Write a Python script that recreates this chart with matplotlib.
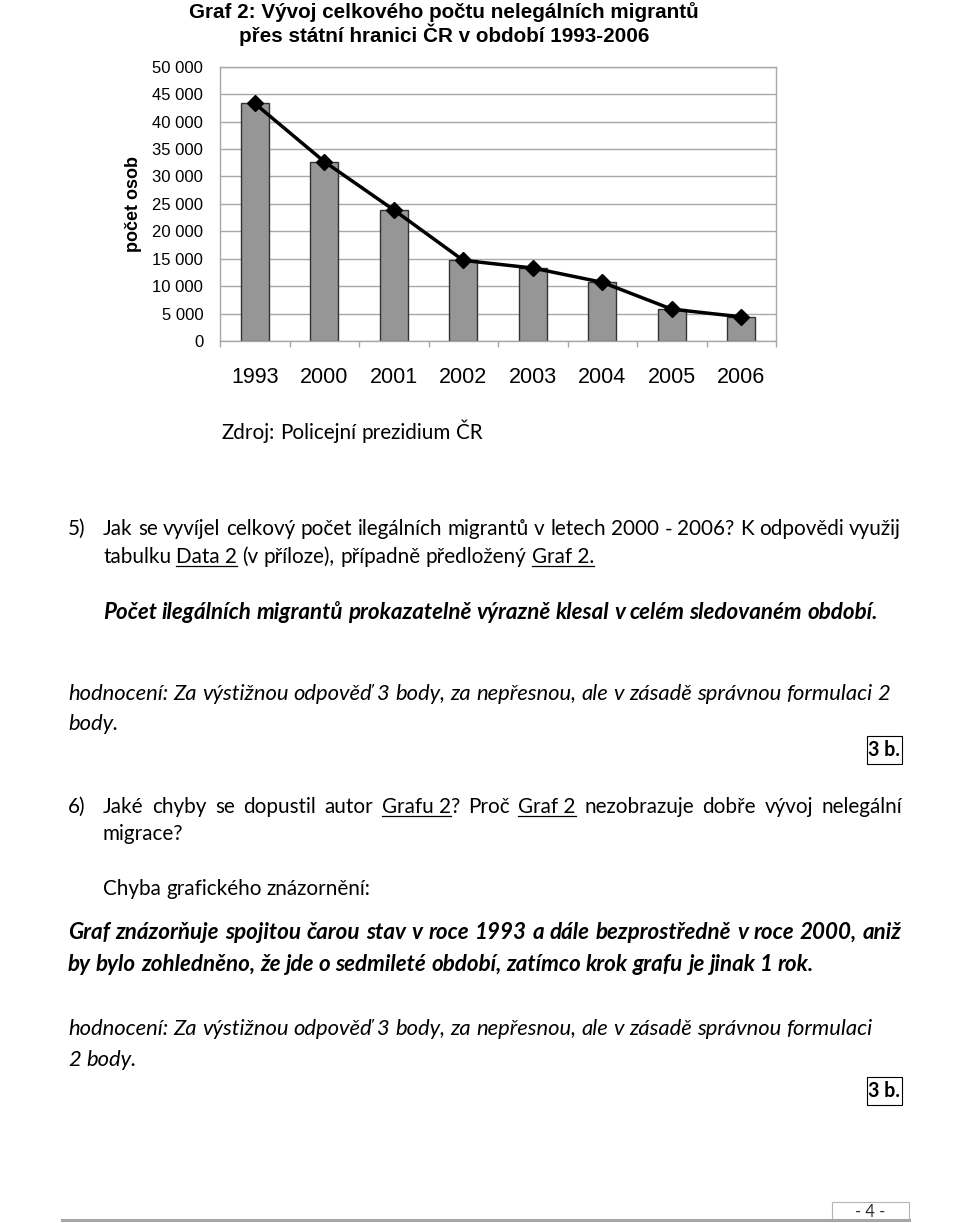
import numpy as np
import matplotlib
matplotlib.use('Agg')
import matplotlib.pyplot as plt
from matplotlib import font_manager
from matplotlib.transforms import IdentityTransform
from matplotlib.lines import Line2D
from matplotlib.patches import Rectangle
from matplotlib.ticker import FuncFormatter

# data
years = ['1993', '2000', '2001', '2002', '2003', '2004', '2005', '2006']
migrants = [43300, 32700, 23900, 14700, 13300, 10700, 5800, 4400]
y_ticks = [0, 5000, 10000, 15000, 20000, 25000, 30000, 35000, 40000, 45000, 50000]

W, H = 960, 1223
fig = plt.figure(figsize=(W / 100, H / 100), dpi=100)
renderer = fig.canvas.get_renderer()
PX = IdentityTransform()

names = {f.name for f in font_manager.fontManager.ttflist}
narrow = 'Liberation Sans Narrow' if 'Liberation Sans Narrow' in names else 'Liberation Sans'
arial = 'Liberation Sans'
body = 'Lato' if 'Lato' in names else 'DejaVu Sans'


def text_width(s, **kw):
    t = fig.text(0, 0, s, transform=PX, **kw)
    w = t.get_window_extent(renderer).width
    t.remove()
    return w


def fit(s, target, **kw):
    return 20 * target / text_width(s, fontsize=20, **kw)


# ---- chart ----
ax = fig.add_axes([220 / W, 1 - 341 / H, 556 / W, 274.3 / H])
x = np.arange(len(years))
ax.bar(x, migrants, width=0.4, color='#969696', edgecolor='#333333', lw=1, zorder=2)
ax.plot(x, migrants, color='black', lw=2.5, marker='D', ms=8, zorder=3)
ax.set_xlim(-0.5, len(years) - 0.5)
ax.set_ylim(0, 50000)
ax.set_yticks(y_ticks)
ax.yaxis.set_major_formatter(FuncFormatter(lambda v, p: f'{int(v):,}'.replace(',', ' ')))
ax.yaxis.grid(True, color='#a8a8a8', lw=1, zorder=0)
ax.set_axisbelow(True)
ax.tick_params(axis='y', length=0, pad=12, labelsize=12)
for lab in ax.get_yticklabels():
    lab.set_family(arial)
ax.set_xticks(x)
ax.set_xticklabels(years, family=arial, fontsize=15.5)
ax.set_xticks(np.arange(-0.5, len(years), 1), minor=True)
ax.tick_params(axis='x', which='major', length=0, pad=19)
ax.tick_params(axis='x', which='minor', length=4, color='#a8a8a8', width=1)
for sp in ax.spines.values():
    sp.set_color('#a8a8a8')
    sp.set_linewidth(1)

title1 = 'Graf 2: Vývoj celkového počtu nelegálních migrantů'
title2 = 'přes státní hranici ČR v období 1993-2006'
ts = fit(title1, 509, family=narrow, weight='bold')
fig.text(444, H - 12, title1, transform=PX, family=narrow, weight='bold', fontsize=ts,
         ha='center', va='center')
fig.text(444, H - 35, title2, transform=PX, family=narrow, weight='bold', fontsize=ts,
         ha='center', va='center')
fig.text(134, H - 204, 'počet osob', transform=PX, family=arial, weight='bold', fontsize=13,
         rotation=90, ha='center', va='center')

# ---- text of the page ----
REG = dict(family=body)
ITA = dict(family=body, style='italic')
BI = dict(family=body, style='italic', weight='bold')
BOLD = dict(family=body, weight='bold')

s_reg = fit('Zdroj: Policejní prezidium ČR', 262, **REG)
s_ita = fit('hodnocení: Za výstižnou odpověď 3 body, za nepřesnou, ale v zásadě správnou formulaci', 807, **ITA)
s_bi = fit('by bylo zohledněno, že jde o sedmileté období, zatímco krok grafu je jinak 1 rok.', 747, **BI)
s_box = fit('3 b.', 32, **BOLD)


def tokenize(segs):
    toks = []
    pending = False
    for txt, ul in segs:
        if ul:
            toks.append((txt, ul, pending))
            pending = False
            continue
        for i, p in enumerate(txt.split(' ')):
            if i > 0:
                pending = True
            if p:
                toks.append((p, ul, pending))
                pending = False
    return toks


def put_line(x0, yc, segs, props, size, x1=None):
    if isinstance(segs, str):
        segs = [(segs, False)]
    toks = tokenize(segs)
    widths = [text_width(t[0], fontsize=size, **props) for t in toks]
    sw = text_width('n n', fontsize=size, **props) - text_width('nn', fontsize=size, **props)
    nsp = sum(1 for t in toks if t[2])
    gap = sw if (x1 is None or nsp == 0) else (x1 - x0 - sum(widths)) / nsp
    em = size * 100 / 72
    base = yc + 0.3 * em
    xx = x0
    for (txt, ul, sp), w in zip(toks, widths):
        if sp:
            xx += gap
        fig.text(xx, H - base, txt, transform=PX, fontsize=size, ha='left', va='baseline', **props)
        if ul:
            yu = H - base - 0.12 * em
            fig.add_artist(Line2D([xx, xx + w], [yu, yu], transform=PX, color='black', lw=0.9))
        xx += w


def points_box(yc):
    fig.add_artist(Rectangle((867, H - yc - 14), 35, 28, transform=PX, fc='white', ec='black', lw=0.8))
    fig.text(884.5, H - yc, '3 b.', transform=PX, fontsize=s_box, ha='center', va='center', **BOLD)


put_line(222, 433, 'Zdroj: Policejní prezidium ČR', REG, s_reg)

put_line(68, 529, '5)', REG, s_reg)
put_line(103, 529, 'Jak se vyvíjel celkový počet ilegálních migrantů v letech 2000 - 2006? K odpovědi využij',
         REG, s_reg, x1=901)
put_line(103, 557, [('tabulku ', False), ('Data 2', True), (' (v příloze), případně předložený ', False),
                    ('Graf 2.', True)], REG, s_reg)
put_line(103, 612, 'Počet ilegálních migrantů prokazatelně výrazně klesal v celém sledovaném období.', BI, s_bi)

put_line(68, 693, 'hodnocení: Za výstižnou odpověď 3 body, za nepřesnou, ale v zásadě správnou formulaci 2',
         ITA, s_ita)
put_line(68, 723, 'body.', ITA, s_ita)
points_box(750)

put_line(68, 807, '6)', REG, s_reg)
put_line(103, 807, [('Jaké chyby se dopustil autor ', False), ('Grafu 2', True), ('? Proč ', False),
                    ('Graf 2', True), (' nezobrazuje dobře vývoj nelegální', False)], REG, s_reg, x1=902)
put_line(103, 834, 'migrace?', REG, s_reg)
put_line(103, 889, 'Chyba grafického znázornění:', REG, s_reg)

put_line(68, 932, 'Graf znázorňuje spojitou čarou stav v roce 1993 a dále bezprostředně v roce 2000, aniž',
         BI, s_bi, x1=902)
put_line(68, 964, 'by bylo zohledněno, že jde o sedmileté období, zatímco krok grafu je jinak 1 rok.', BI, s_bi)

put_line(68, 1028, 'hodnocení: Za výstižnou odpověď 3 body, za nepřesnou, ale v zásadě správnou formulaci',
         ITA, s_ita)
put_line(68, 1059, '2 body.', ITA, s_ita)
points_box(1091)

# page footer
fig.add_artist(Line2D([62, 909], [H - 1220, H - 1220], transform=PX, color='#a6a6a6', lw=2.2))
fig.add_artist(Rectangle((832, H - 1220), 77, 18, transform=PX, fc='none', ec='#b4b4b4', lw=0.8))
fig.text(870, H - 1212, '- 4 -', transform=PX, fontsize=s_reg * 0.8, ha='center', va='center',
         color='#303030', **REG)

fig.savefig('out.png', dpi=100)
